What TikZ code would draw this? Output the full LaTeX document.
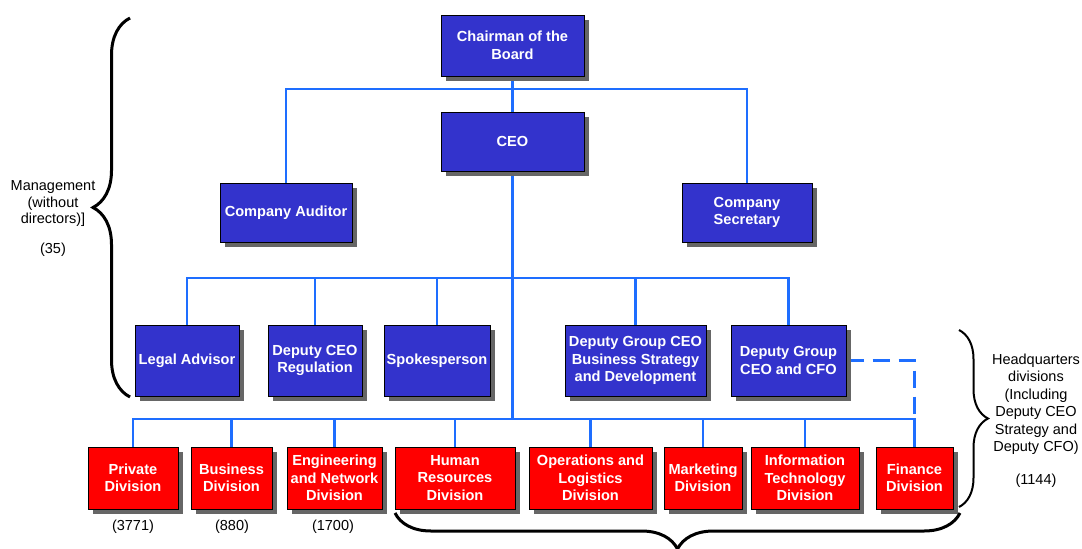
\documentclass[tikz,border=0pt]{standalone}
\usepackage{fontspec}
\setmainfont{Liberation Sans}
\usetikzlibrary{shadows,decorations.pathreplacing,backgrounds}
\definecolor{boxblue}{RGB}{51,51,204}
\definecolor{boxred}{RGB}{255,0,0}
\definecolor{linkblue}{RGB}{30,110,255}
\definecolor{shadowgray}{RGB}{102,102,102}

\begin{document}
\begin{tikzpicture}[x=1pt,y=-1pt,
  unit/.style={draw=black, line width=1pt, text=white,
    font=\fontsize{14.6}{17.5}\selectfont\bfseries, align=center, inner sep=0pt,
    drop shadow={shadow xshift=5pt, shadow yshift=-5pt, fill=shadowgray, opacity=1}},
  mgmt/.style={unit, fill=boxblue},
  div/.style={unit, fill=boxred, minimum height=62pt},
  link/.style={draw=linkblue, line width=2.2pt},
  dashlink/.style={link, dash pattern=on 17pt off 9pt},
  note/.style={font=\fontsize{14.5}{17.5}\selectfont, align=center, inner sep=0pt},
  bracket/.style={decorate, decoration={brace, amplitude=#1}, line width=3pt}
]
\useasboundingbox (0,0) rectangle (1082,549);

% top management
\node[mgmt, minimum width=143pt, minimum height=61pt] (chair) at (512.5,45.5) {Chairman of the\\Board};
\node[mgmt, minimum width=143pt, minimum height=59pt] (ceo) at (512.5,141.5) {CEO};
\node[mgmt, minimum width=132pt, minimum height=59pt] (auditor) at (286,212.5) {Company Auditor};
\node[mgmt, minimum width=130pt, minimum height=59pt] (secretary) at (747,212.5) {Company\\Secretary};

% staff functions under the CEO
\node[mgmt, minimum width=104pt, minimum height=71pt] (legal) at (187,360.5) {Legal Advisor};
\node[mgmt, minimum width=94pt, minimum height=71pt] (regulation) at (315,360.5) {Deputy CEO\\Regulation};
\node[mgmt, minimum width=106pt, minimum height=71pt] (spokes) at (437,360.5) {Spokesperson};
\node[mgmt, minimum width=141pt, minimum height=71pt] (strategy) at (635.5,360.5) {Deputy Group CEO\\Business Strategy\\and Development};
\node[mgmt, minimum width=115pt, minimum height=71pt] (cfo) at (788.5,360.5) {Deputy Group\\CEO and CFO};

% divisions
\node[div, minimum width=90pt] (private) at (133,478) {Private\\Division};
\node[div, minimum width=81pt] (business) at (231.5,478) {Business\\Division};
\node[div, minimum width=95pt] (engineering) at (334.5,478) {Engineering\\and Network\\Division};
\node[div, minimum width=120pt] (hr) at (455,478) {Human\\Resources\\Division};
\node[div, minimum width=123pt] (ops) at (590.5,478) {Operations and\\Logistics\\Division};
\node[div, minimum width=78pt] (marketing) at (703,478) {Marketing\\Division};
\node[div, minimum width=108pt] (it) at (805,478) {Information\\Technology\\Division};
\node[div, minimum width=77pt] (finance) at (914.5,478) {Finance\\Division};

% bus levels
\coordinate (busA) at (0,89);
\coordinate (busB) at (0,278);
\coordinate (busC) at (0,419);
\coordinate (cfocorner) at (finance.north |- cfo.east);

\begin{scope}[on background layer]
  \draw[link] (chair.south) -- (ceo.north);
  \draw[link] (auditor.north) -- (auditor.north |- busA) -- (secretary.north |- busA) -- (secretary.north);
  \draw[link] (ceo.south) -- (ceo.south |- busC);
  \draw[link] (legal.north) -- (legal.north |- busB) -- (cfo.north |- busB) -- (cfo.north);
  \foreach \n in {regulation, spokes, strategy}
    \draw[link] (\n.north) -- (\n.north |- busB);
  \draw[link] (private.north) -- (private.north |- busC) -- (finance.north |- busC) -- (finance.north);
  \foreach \n in {business, engineering, hr, ops, marketing, it}
    \draw[link] (\n.north) -- (\n.north |- busC);
  \draw[dashlink] (cfo.east) -- (cfocorner) -- (finance.north |- busC);
\end{scope}

% headcounts
\node[note] (countprivate) at (133,527) {(3771)};
\node[note] (countbusiness) at (232,527) {(880)};
\node[note] (countengineering) at (333,527) {(1700)};

% group braces and their labels
\coordinate (mgmttop) at (130,18);
\coordinate (mgmtbottom) at (130,397);
\draw[bracket=37] (mgmtbottom) -- (mgmttop);
\node[note, font=\fontsize{14.5}{16.5}\selectfont] (mgmtlabel) at (53,204) {Management\\(without\\directors)]};
\node[note] (mgmtcount) at (53,250) {(35)};

\coordinate (hqtop) at (959,330);
\coordinate (hqbottom) at (959,507);
\draw[bracket=29, line width=2pt] (hqtop) -- (hqbottom);
\node[note] (hqlabel) at (1036,404) {Headquarters\\divisions\\(Including\\Deputy CEO\\Strategy and\\Deputy CFO)};
\node[note] (hqcount) at (1036,481) {(1144)};

\coordinate (divright) at (960,513);
\coordinate (divleft) at (395,513);
\draw[bracket=36] (divright) -- (divleft);
\end{tikzpicture}
\end{document}
